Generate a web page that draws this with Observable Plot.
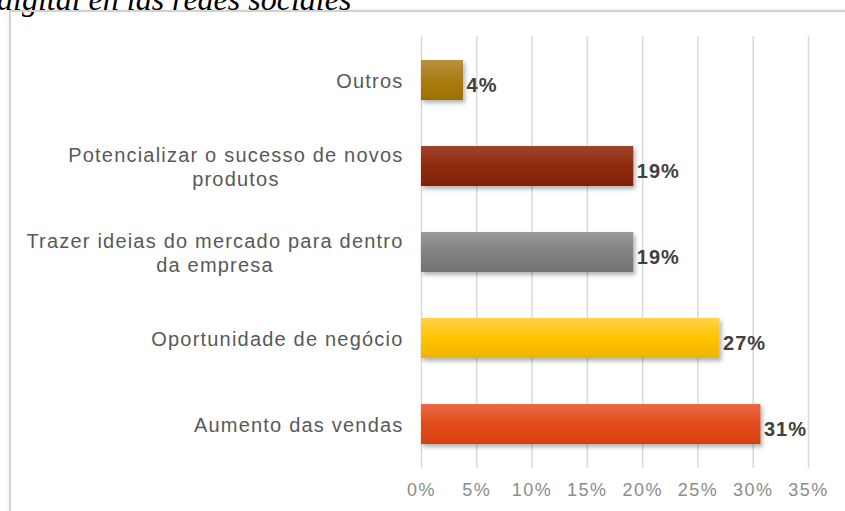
<!DOCTYPE html>
<html>
<head>
<meta charset="utf-8">
<script src="https://cdn.jsdelivr.net/npm/d3@7"></script>
<script src="https://cdn.jsdelivr.net/npm/@observablehq/plot@0.6"></script>
<style>
  body { margin: 0; width: 845px; height: 511px; overflow: hidden; position: relative; background: #fff; }
  #title { position: absolute; left: -3px; top: -17px; font: italic 32px "Liberation Serif", "Times New Roman", serif; line-height: 32px; white-space: nowrap; color: #000; }
  #frame { position: absolute; left: 9px; top: 10px; width: 900px; height: 600px; border-left: 2px solid #d2d2d2; border-top: 2px solid #d2d2d2; box-shadow: -1px -1px 2px rgba(0,0,0,0.06); }
  #chart { position: absolute; left: 0; top: 0; }
  #chart svg g[aria-label="y-axis tick label"] text { letter-spacing: 1.2px; }
  #chart svg g[aria-label="x-axis tick label"] text { letter-spacing: 1.5px; }
  #chart svg g[aria-label="text"] text { letter-spacing: 1px; }
</style>
</head>
<body>
<div id="title">digital en las redes sociales</div>
<div id="frame"></div>
<div id="chart"></div>
<script>
const categories = [
  "Outros",
  "Potencializar o sucesso de novos\nprodutos",
  "Trazer ideias do mercado para dentro\nda empresa",
  "Oportunidade de negócio",
  "Aumento das vendas"
];
const values = [3.8, 19.2, 19.2, 27.0, 30.7];
const valueLabels = ["4%", "19%", "19%", "27%", "31%"];
const xTicks = [0, 5, 10, 15, 20, 25, 30, 35];

// gradient colours per bar (top, middle, bottom)
const barGradients = [
  ["#b8913f", "#a97d12", "#9c7000"],
  ["#a0442a", "#8d2a0c", "#832305"],
  ["#9a9a9a", "#828282", "#737373"],
  ["#ffd24a", "#ffc300", "#efb400"],
  ["#ea6a45", "#e24c1c", "#d6400f"]
];

const data = categories.map((c, i) => ({
  category: c,
  value: values[i],
  label: valueLabels[i],
  fill: `url(#bar-grad-${i})`
}));

const chart = Plot.plot({
  width: 845,
  height: 511,
  marginLeft: 421,
  marginRight: 37,
  marginTop: 36,
  marginBottom: 43,
  style: { fontFamily: "'Liberation Sans', Arial, sans-serif", background: "transparent" },
  x: { domain: [0, 35], label: null },
  y: { domain: categories, paddingInner: 0.535, paddingOuter: 0.2675, label: null },
  color: { type: "identity" },
  marks: [
    Plot.gridX(xTicks, { stroke: "#d9d9d9", strokeOpacity: 1, strokeWidth: 1.5 }),
    Plot.barX(data, { x: "value", y: "category", fill: "fill" }),
    Plot.text(data, {
      x: "value", y: "category", text: "label",
      textAnchor: "start", dx: 3, dy: 5,
      fill: "#404040", fontWeight: "bold", fontSize: 20
    }),
    Plot.axisX(xTicks, { tickSize: 0, tickPadding: 15, tickFormat: d => d + "%", fill: "#8c8c8c", fontSize: 18 }),
    Plot.axisY({ tickSize: 0, tickPadding: 18, fill: "#595959", fontSize: 20, lineHeight: 1.2 })
  ]
});

document.getElementById("chart").append(chart);

const svg = d3.select(chart);
const defs = svg.insert("defs", ":first-child");
barGradients.forEach((stops, i) => {
  const g = defs.append("linearGradient")
    .attr("id", `bar-grad-${i}`)
    .attr("x1", 0).attr("y1", 0).attr("x2", 0).attr("y2", 1);
  g.append("stop").attr("offset", "0%").attr("stop-color", stops[0]);
  g.append("stop").attr("offset", "50%").attr("stop-color", stops[1]);
  g.append("stop").attr("offset", "100%").attr("stop-color", stops[2]);
});
const f = defs.append("filter").attr("id", "bar-shadow")
  .attr("x", "-10%").attr("y", "-20%").attr("width", "130%").attr("height", "160%");
f.append("feDropShadow").attr("dx", 2).attr("dy", 3).attr("stdDeviation", 2)
  .attr("flood-color", "#000").attr("flood-opacity", 0.3);

svg.selectAll('g[aria-label="bar"] rect').attr("filter", "url(#bar-shadow)");

// center multi-line category labels within their block
svg.selectAll('g[aria-label="y-axis tick label"] text').each(function () {
  const ts = this.querySelectorAll("tspan");
  if (ts.length > 1) {
    const b = this.getBBox();
    const cx = b.x + b.width / 2;
    this.setAttribute("text-anchor", "middle");
    ts.forEach(t => t.setAttribute("x", cx));
  }
});
</script>
</body>
</html>
